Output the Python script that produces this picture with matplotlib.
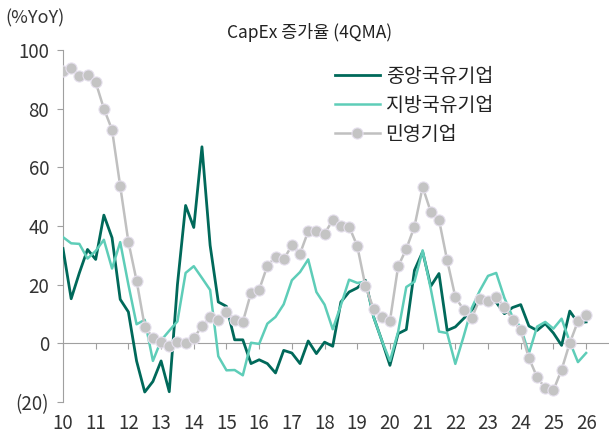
import numpy as np
import matplotlib
matplotlib.use('Agg')
import matplotlib.pyplot as plt

plt.rcParams['font.family'] = ['Noto Sans CJK KR', 'DejaVu Sans']

# quarterly, 2010Q1 .. 2026Q1
central_soe = [32.3, 15.2, 24, 32, 28.6, 43.7, 36, 15, 10.7, -6,
               -16.6, -13, -6, -16.5, 20, 47, 39.5, 67, 33.4, 14.1,
               12.6, 1.2, 1.2, -6.9, -5.6, -6.9, -10.1, -2.4, -3.3, -6.9,
               0.8, -3.5, 0.4, -1, 14.1, 17.5, 18.9, 21.5, 9, 1,
               -7.5, 3.3, 4.7, 24.9, 31.2, 19.5, 23.8, 4.4, 5.6, 8.4,
               11.3, 15, 15, 14, 10.1, 12.2, 13.2, 5.9, 4.4, 6.7,
               3.5, -0.7, 11, 7, 7.3]
local_soe = [36.2, 34.1, 33.9, 28.9, 31.5, 35.3, 25.5, 34.5, 20, 6.5,
             8, -6, 1, 4.3, 7.5, 24, 26.3, 22.3, 18.2, -4.4,
             -9.2, -9.1, -10.9, 0.2, -0.2, 6.7, 9, 13.3, 21.5, 24.3,
             28.6, 17.5, 13.2, 4.8, 13, 21.7, 20.6, 21, 9, 1,
             -6, 3.9, 19.2, 21, 31.7, 18.5, 4, 3.5, -7, 2.2,
             12, 18, 23, 24, 15.5, 9, 5.5, -3.5, 5.7, 7.3,
             5, 8.4, 0.5, -6.4, -3.3]
private = [92.9, 93.8, 91.2, 91.5, 89, 80, 72.8, 53.6, 34.6, 21.4,
           5.7, 1.9, 0.4, -0.9, 0.6, 0.1, 1.8, 5.8, 8.9, 8.1,
           10.8, 8, 7.3, 17.2, 18.3, 26.4, 29.5, 28.6, 33.4, 30.6,
           38.2, 38.2, 37.4, 42, 39.9, 39.8, 33.2, 19.5, 11.8, 9,
           7.7, 26.2, 32.2, 39.8, 53.3, 44.8, 42.1, 28.3, 15.8, 11.5,
           8.6, 15.2, 14.3, 15.8, 12.4, 8.1, 4.4, -5, -11.5, -15.3,
           -16, -9, 0.1, 7.5, 9.8]
labels = ['중앙국유기업', '지방국유기업', '민영기업']
year_ticks = list(range(10, 27))
y_ticks = [-20, 0, 20, 40, 60, 80, 100]
y_labels = ['(20)', '0', '20', '40', '60', '80', '100']

x = 10 + np.arange(len(private)) / 4.0

fig = plt.figure(figsize=(6.09, 4.36), dpi=100)
ax = fig.add_axes([63 / 609, 34 / 436, 1 - 63 / 609, 352 / 436])

ax.plot(x, central_soe, color='#00695A', lw=2.0, label=labels[0], zorder=3)
ax.plot(x, local_soe, color='#5ECDB8', lw=1.8, label=labels[1], zorder=3)
ax.plot(x, private, color='#C0C0C0', lw=1.8, marker='o', ms=8,
        mfc='#C4C4C4', mec='#E6E0EE', mew=0.8, label=labels[2], zorder=4)

ax.set_xlim(10, 26.7)
ax.set_ylim(-20, 100)

for s in ['top', 'right']:
    ax.spines[s].set_visible(False)
ax.spines['left'].set_color('#A0A0A0')
ax.spines['bottom'].set_position(('data', 0))
ax.spines['bottom'].set_color('#A0A0A0')

ax.set_xticks(year_ticks)
ax.set_xticklabels([str(y) for y in year_ticks])
ax.set_yticks(y_ticks)
ax.set_yticklabels(y_labels)
ax.tick_params(axis='x', direction='out', length=4, color='#A0A0A0',
               pad=46, labelsize=13.5, labelcolor='#333333')
ax.tick_params(axis='y', direction='out', length=4, color='#A0A0A0',
               pad=6, labelsize=13.5, labelcolor='#333333')

fig.text(5 / 609, 1 - 18 / 436, '(%YoY)', fontsize=13, color='#333333',
         ha='left', va='center')
fig.text(310 / 609, 1 - 33 / 436, 'CapEx 증가율 (4QMA)', fontsize=12.5,
         color='#222222', ha='center', va='center')

ax.legend(loc='upper left', bbox_to_anchor=(335 / 609, 1 - 66 / 436),
          bbox_transform=fig.transFigure, frameon=False, fontsize=14,
          handlelength=2.3, handletextpad=0.3, labelspacing=0.4,
          borderpad=0, borderaxespad=0, labelcolor='#222222')

fig.savefig('out.png', dpi=100)
